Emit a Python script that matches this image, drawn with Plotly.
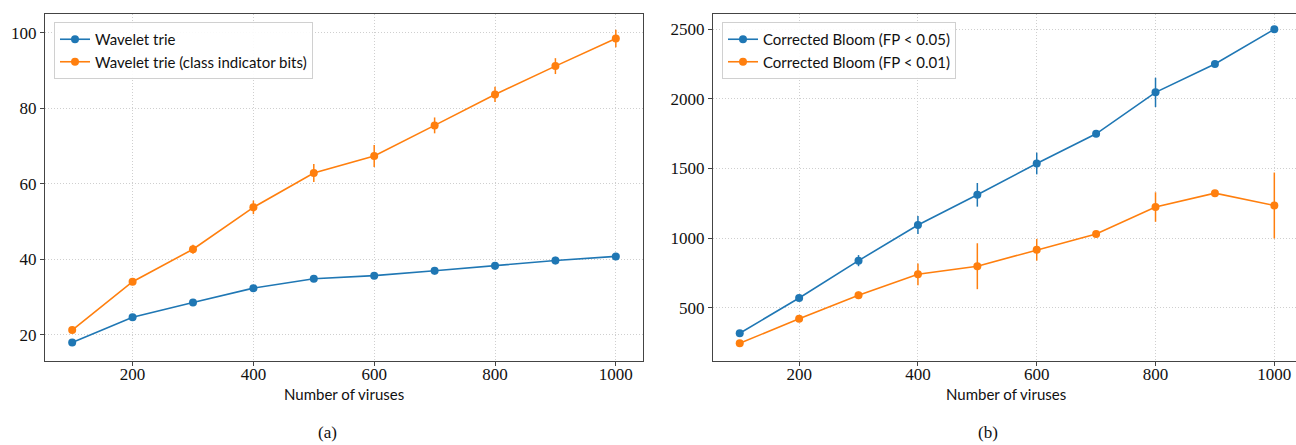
import plotly.graph_objects as go

# Number of viruses in each experiment
viruses = [100, 200, 300, 400, 500, 600, 700, 800, 900, 1000]

# (a) wavelet trie sizes
wt_mean = [18.0, 24.7, 28.6, 32.4, 34.9, 35.7, 37.0, 38.3, 39.7, 40.8]
wt_err = [0.5, 0.6, 0.6, 0.7, 0.7, 0.8, 1.0, 1.0, 1.0, 0.8]
wt_cib_mean = [21.3, 34.1, 42.7, 53.8, 62.9, 67.4, 75.5, 83.7, 91.2, 98.5]
wt_cib_err = [0.7, 0.8, 1.2, 1.8, 2.4, 2.9, 2.1, 2.0, 2.1, 2.3]

# (b) corrected Bloom filter sizes
bloom05_mean = [316, 570, 838, 1094, 1311, 1536, 1749, 2047, 2251, 2500]
bloom05_err = [10, 12, 40, 65, 85, 78, 10, 105, 12, 8]
bloom01_mean = [244, 421, 589, 740, 798, 916, 1029, 1223, 1323, 1234]
bloom01_err = [8, 10, 27, 78, 165, 78, 10, 106, 10, 237]

series_names = [
    "Wavelet trie",
    "Wavelet trie (class indicator bits)",
    "Corrected Bloom (FP < 0.05)",
    "Corrected Bloom (FP < 0.01)",
]
x_title = "Number of viruses"

BLUE = "#1f77b4"
ORANGE = "#ff7f0e"
SERIF = "Liberation Serif"
SANS = "Lato"
INK = "#111"

fig = go.Figure()


def add_series(x, y, err, name, color, xa, ya, legend):
    fig.add_trace(go.Scatter(
        x=x, y=y, name=name, mode="lines+markers",
        line=dict(color=color, width=1.6),
        marker=dict(color=color, size=8),
        error_y=dict(type="data", array=err, visible=True,
                     color=color, thickness=1.5, width=0),
        xaxis=xa, yaxis=ya, legend=legend,
    ))


add_series(viruses, wt_mean, wt_err, series_names[0], BLUE, "x", "y", "legend")
add_series(viruses, wt_cib_mean, wt_cib_err, series_names[1], ORANGE, "x", "y", "legend")
add_series(viruses, bloom05_mean, bloom05_err, series_names[2], BLUE, "x2", "y2", "legend2")
add_series(viruses, bloom01_mean, bloom01_err, series_names[3], ORANGE, "x2", "y2", "legend2")

W, H = 1296, 445
y_dom = [1 - 361 / H, 1 - 14 / H]

grid = dict(showgrid=True, gridcolor="#cfcfcf", griddash="1px,2px", gridwidth=1)
frame = dict(zeroline=False, showline=True, linecolor="#444", linewidth=1.3,
             ticks="outside", ticklen=4, tickcolor="#444",
             tickfont=dict(family=SERIF, size=17, color=INK))

common_x = dict(tickvals=[200, 400, 600, 800, 1000], ticklabelstandoff=-7,
                **grid, **frame)
common_y = dict(**grid, **frame)

legend_style = dict(
    bgcolor="rgba(255,255,255,0.9)", bordercolor="#d0d0d0", borderwidth=1,
    font=dict(family=SANS, size=15, color=INK),
    xanchor="left", yanchor="top", tracegroupgap=2,
    itemwidth=30,
)


def caption(text, x, y, font):
    return dict(text=text, x=x / W, y=1 - y / H, xref="paper", yref="paper",
                showarrow=False, xanchor="center", yanchor="middle", font=font)


sans_font = dict(family=SANS, size=15, color=INK)
serif_font = dict(family=SERIF, size=17, color=INK)

fig.update_layout(
    width=W, height=H,
    margin=dict(l=0, r=0, t=0, b=0),
    paper_bgcolor="white", plot_bgcolor="white",
    showlegend=True,
    xaxis=dict(domain=[45 / W, 643 / W], range=[55, 1045], mirror=True,
               anchor="y", **common_x),
    yaxis=dict(domain=y_dom, range=[13.1, 105.0], mirror=True,
               tickvals=[20, 40, 60, 80, 100], anchor="x", **common_y),
    xaxis2=dict(domain=[713 / W, 1.0], range=[55, 1036.5], mirror=True,
                anchor="y2", **common_x),
    yaxis2=dict(domain=y_dom, range=[117, 2610], mirror=False,
                tickvals=[500, 1000, 1500, 2000, 2500], anchor="x2", **common_y),
    legend=dict(x=54 / W, y=1 - 22 / H, **legend_style),
    legend2=dict(x=722 / W, y=1 - 22 / H, **legend_style),
    annotations=[
        caption(x_title, 344, 394, sans_font),
        caption(x_title, 1006, 394, sans_font),
        caption("(a)", 327, 432, serif_font),
        caption("(b)", 988, 432, serif_font),
    ],
)

fig.write_html("out.html")
